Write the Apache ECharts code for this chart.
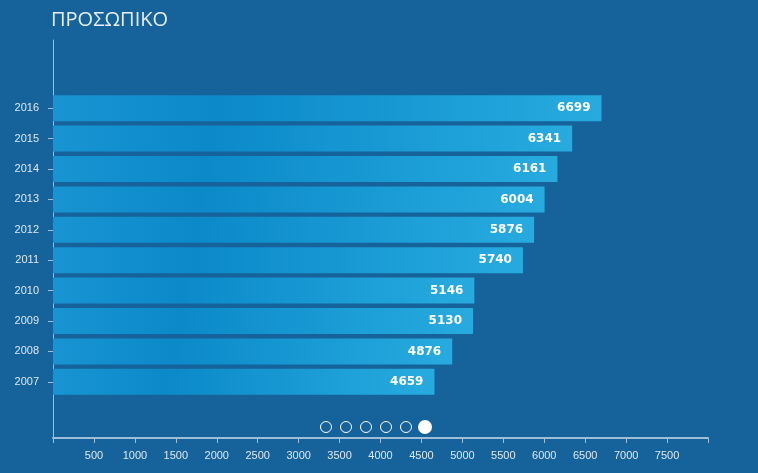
<!DOCTYPE html>
<html>
<head>
<meta charset="utf-8">
<script src="https://cdn.jsdelivr.net/npm/echarts@6/dist/echarts.min.js"></script>
<style>
html,body{margin:0;padding:0;background:#16629a;}
#c{width:758px;height:473px;}
</style>
</head>
<body>
<div id="c"></div>
<script>
var title = 'ΠΡΟΣΩΠΙΚΟ';
var years = ['2007','2008','2009','2010','2011','2012','2013','2014','2015','2016'];
var staff = [4659, 4876, 5130, 5146, 5740, 5876, 6004, 6161, 6341, 6699];
var xTicks = [500,1000,1500,2000,2500,3000,3500,4000,4500,5000,5500,6000,6500,7000,7500];

var chart = echarts.init(document.getElementById('c'));
var axisCol = '#9dbdd9';
var barGrad = new echarts.graphic.LinearGradient(0, 0, 1, 0, [
  {offset: 0, color: '#1894d2'},
  {offset: 0.3, color: '#0b89c9'},
  {offset: 1, color: '#27abdf'}
]);
chart.setOption({
  backgroundColor: '#16629a',
  animation: false,
  title: {
    text: title, left: 46, top: 5,
    textStyle: {color: '#e6eef6', fontFamily: 'Open Sans', fontWeight: 'normal', fontSize: 20}
  },
  grid: [
    {left: 53, right: 50, top: 40, bottom: 35},
    {left: 53, right: 50, top: 93, bottom: 76}
  ],
  xAxis: [
    {
      gridIndex: 0, type: 'value', min: 0, max: 8000, interval: 500,
      axisLine: {show: true, lineStyle: {color: axisCol, width: 2}},
      axisTick: {show: true, length: 5, lineStyle: {color: axisCol, width: 1}},
      axisLabel: {
        color: '#dde8f2', fontFamily: 'Liberation Sans', fontSize: 11, margin: 12,
        formatter: function (v) { return xTicks.indexOf(v) >= 0 ? String(v) : ''; }
      },
      splitLine: {show: false}
    },
    {
      gridIndex: 1, type: 'value', min: 0, max: 8000, show: false
    }
  ],
  yAxis: [
    {
      gridIndex: 0, type: 'value', min: 0, max: 1,
      axisLine: {show: true, lineStyle: {color: axisCol, width: 1}},
      axisTick: {show: false}, axisLabel: {show: false}, splitLine: {show: false}
    },
    {
      gridIndex: 1, type: 'category', data: years,
      axisLine: {show: false},
      axisTick: {show: true, alignWithLabel: true, length: 5, lineStyle: {color: axisCol}},
      axisLabel: {color: '#dde8f2', fontFamily: 'Liberation Sans', fontSize: 11, margin: 14},
      splitLine: {show: false}
    }
  ],
  series: [{
    type: 'bar',
    xAxisIndex: 1, yAxisIndex: 1,
    data: staff,
    barWidth: 26,
    itemStyle: {color: barGrad},
    label: {
      show: true, position: 'insideRight', distance: 11,
      color: '#ffffff', fontFamily: 'DejaVu Sans', fontWeight: 'bold', fontSize: 12
    }
  }],
  graphic: [
    {type: 'circle', shape: {cx: 326, cy: 427, r: 5.5}, style: {fill: 'none', stroke: '#ffffff', lineWidth: 1}},
    {type: 'circle', shape: {cx: 346, cy: 427, r: 5.5}, style: {fill: 'none', stroke: '#ffffff', lineWidth: 1}},
    {type: 'circle', shape: {cx: 366, cy: 427, r: 5.5}, style: {fill: 'none', stroke: '#ffffff', lineWidth: 1}},
    {type: 'circle', shape: {cx: 386, cy: 427, r: 5.5}, style: {fill: 'none', stroke: '#ffffff', lineWidth: 1}},
    {type: 'circle', shape: {cx: 406, cy: 427, r: 5.5}, style: {fill: 'none', stroke: '#ffffff', lineWidth: 1}},
    {type: 'circle', shape: {cx: 425, cy: 427, r: 7}, style: {fill: '#ffffff'}}
  ]
});
</script>
</body>
</html>
